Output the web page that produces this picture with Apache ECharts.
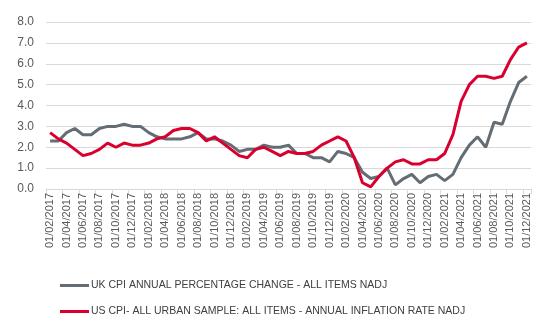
<!DOCTYPE html>
<html><head><meta charset="utf-8">
<script src="https://cdn.jsdelivr.net/npm/echarts@6/dist/echarts.min.js"></script>
<style>html,body{margin:0;padding:0;background:#fff}#c{width:550px;height:330px}</style>
</head><body><div id="c"></div>
<script>
const months = [];
(function(){ for (let y = 2017; y <= 2021; y++) for (let m = 1; m <= 12; m++) { if (y === 2017 && m < 2) continue; months.push('01/' + String(m).padStart(2,'0') + '/' + y); } })();
const ukName = 'UK CPI ANNUAL PERCENTAGE CHANGE - ALL ITEMS NADJ';
const usName = 'US CPI- ALL URBAN SAMPLE: ALL ITEMS - ANNUAL INFLATION RATE NADJ';
const ukValues = [2.3,2.3,2.7,2.9,2.6,2.6,2.9,3.0,3.0,3.1,3.0,
  3.0,2.7,2.5,2.4,2.4,2.4,2.5,2.7,2.4,2.4,2.3,2.1,
  1.8,1.9,1.9,2.1,2.0,2.0,2.1,1.7,1.7,1.5,1.5,1.3,
  1.8,1.7,1.5,0.8,0.5,0.6,1.0,0.2,0.5,0.7,0.3,0.6,
  0.7,0.4,0.7,1.5,2.1,2.5,2.0,3.2,3.1,4.2,5.1,5.4];
const usValues = [2.7,2.4,2.2,1.9,1.6,1.7,1.9,2.2,2.0,2.2,2.1,
  2.1,2.2,2.4,2.5,2.8,2.9,2.9,2.7,2.3,2.5,2.2,1.9,
  1.6,1.5,1.9,2.0,1.8,1.6,1.8,1.7,1.7,1.8,2.1,2.3,
  2.5,2.3,1.5,0.3,0.1,0.6,1.0,1.3,1.4,1.2,1.2,1.4,
  1.4,1.7,2.6,4.2,5.0,5.4,5.4,5.3,5.4,6.2,6.8,7.0];
const chart = echarts.init(document.getElementById('c'), null, {renderer:'canvas'});
const font = 'Liberation Sans';
chart.setOption({
  animation:false,
  grid:{left:46, top:22, right:19, bottom:141, containLabel:false},
  legend:{
    orient:'vertical', left:55, top:275, itemGap:15,
    icon:'rect', itemWidth:29, itemHeight:3,
    textStyle:{fontFamily:font, fontSize:10.5, color:'#404040', padding:[0,0,0,-3]},
    data:[ukName, usName]
  },
  xAxis:{
    type:'category', data:months, boundaryGap:true,
    axisLine:{lineStyle:{color:'#d9d9d9', width:1}},
    axisTick:{show:true, interval:1, length:5, lineStyle:{color:'#d9d9d9'}},
    axisLabel:{interval:1, rotate:90, fontFamily:font, fontSize:11, color:'#595959', margin:4}
  },
  yAxis:{
    type:'value', min:0, max:8, interval:1,
    axisLine:{show:false}, axisTick:{show:false},
    splitLine:{lineStyle:{color:'#d9d9d9', width:1}},
    axisLabel:{formatter:v=>v.toFixed(1), fontFamily:font, fontSize:12, color:'#595959', margin:12}
  },
  series:[
    {name:ukName, type:'line', data:ukValues, symbol:'none', lineStyle:{color:'#646c74', width:3}, itemStyle:{color:'#646c74'}},
    {name:usName, type:'line', data:usValues, symbol:'none', lineStyle:{color:'#d9002f', width:3}, itemStyle:{color:'#d9002f'}}
  ]
});
</script></body></html>
